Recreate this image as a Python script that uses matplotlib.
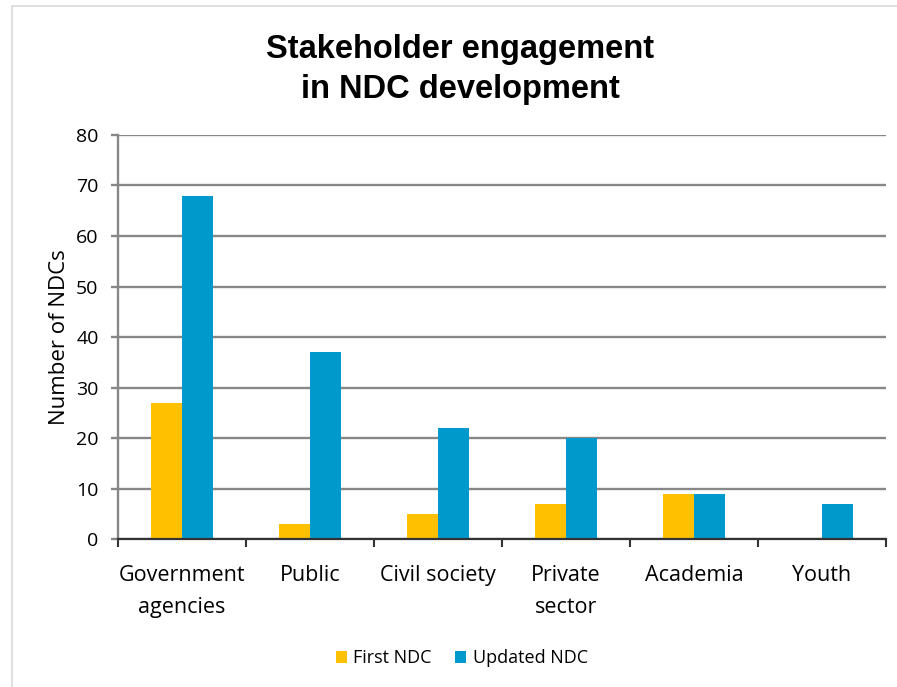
import matplotlib.pyplot as plt
import matplotlib.patches as mpatches
import numpy as np

categories = ['Government\nagencies', 'Public', 'Civil society', 'Private\nsector', 'Academia', 'Youth']
first_ndc = [27, 3, 5, 7, 9, 0]
updated_ndc = [68, 37, 22, 20, 9, 7]

plt.rcParams['font.family'] = ['Open Sans', 'DejaVu Sans']

fig = plt.figure(figsize=(8.97, 6.87), dpi=100)
ax = fig.add_axes([0.1315, 0.2154, 0.8562, 0.5881])

x = np.arange(len(categories))
w = 0.24
ax.bar(x - w / 2, first_ndc, w, color='#FFC000', label='First NDC', zorder=3)
ax.bar(x + w / 2, updated_ndc, w, color='#0099CC', label='Updated NDC', zorder=3)

ax.set_xlim(-0.5, len(categories) - 0.5)
ax.set_ylim(0, 80)
ax.set_yticks(np.arange(0, 81, 10))
ax.yaxis.grid(True, color='#878787', linewidth=1.7, zorder=0)
ax.set_axisbelow(True)

# category labels in the middle, tick marks on the boundaries
ax.set_xticks(x)
ax.set_xticklabels(categories, fontsize=15.5, linespacing=1.65)
ax.set_xticks(np.arange(-0.5, len(categories)), minor=True)
ax.tick_params(axis='x', which='major', length=0, pad=19)
ax.tick_params(axis='x', which='minor', length=6, width=1.5, color='#333333', direction='out')
ax.tick_params(axis='y', length=5, width=1.7, color='#878787', labelsize=14, pad=9)

for s in ['top', 'right']:
    ax.spines[s].set_visible(False)
ax.spines['left'].set_color('#878787')
ax.spines['left'].set_linewidth(1.7)
ax.spines['bottom'].set_color('#333333')
ax.spines['bottom'].set_linewidth(1.6)
ax.spines['bottom'].set_zorder(4)

ax.set_ylabel('Number of NDCs', fontsize=16, labelpad=4)

fig.text(0.513, 0.899, 'Stakeholder engagement\nin NDC development', ha='center', va='center',
         fontsize=23.5, fontweight='bold', family='Liberation Sans', linespacing=1.4)

fig.legend(loc='center', bbox_to_anchor=(0.515, 0.042), ncol=2, frameon=False, fontsize=13,
           handlelength=0.6, handleheight=0.6, handletextpad=0.35, columnspacing=1.3)

# light frame around the chart area
fig.patches.append(mpatches.Rectangle((11.5 / 897, -0.05), 1.0, 1 - 5.5 / 687 + 0.05,
                                      transform=fig.transFigure, fill=False,
                                      edgecolor='#d9d9d9', linewidth=1.2))

fig.savefig('out.png', dpi=100)
